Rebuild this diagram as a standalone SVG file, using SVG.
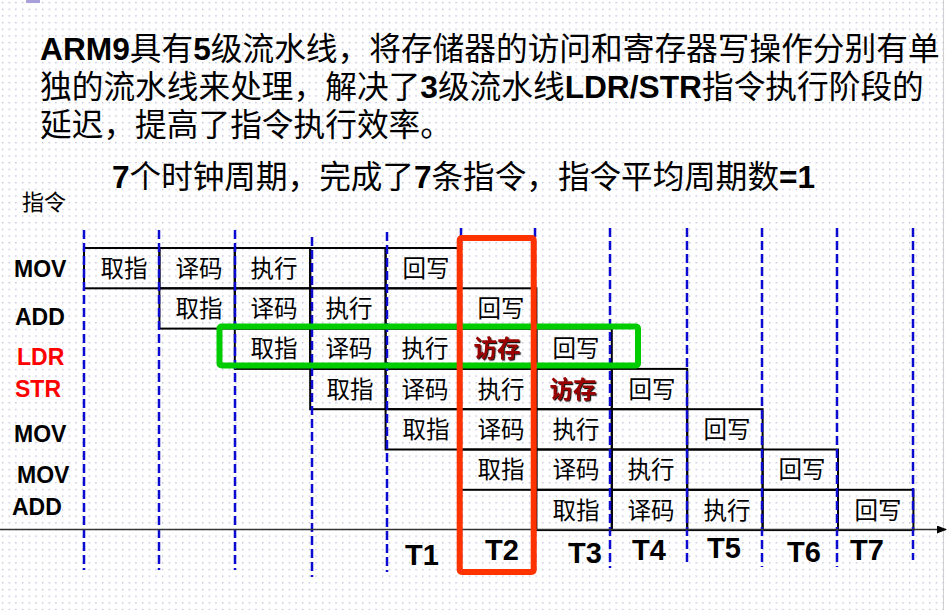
<svg xmlns="http://www.w3.org/2000/svg" width="949" height="610" viewBox="0 0 949 610">
<style>
.t{font-family:"Liberation Sans","Noto Sans CJK SC",sans-serif;fill:#000}
.b{font-weight:bold}
.c{font-family:"Noto Sans CJK SC","Liberation Serif",serif;font-size:23.5px;fill:#000;text-anchor:middle}
.m{fill:#990000;font-weight:bold;filter:url(#sh)}
.lab{font-family:"Liberation Sans",Arial,sans-serif;font-weight:bold;font-size:23px}
.tl{font-family:"Liberation Sans",Arial,sans-serif;font-weight:bold;font-size:29px}
.cell{fill:none;stroke:#000;stroke-width:2}
.dash{stroke:#0a0ad0;stroke-width:2.5;stroke-dasharray:9 4;fill:none}
</style>
<defs>
<pattern id="dots" width="6.67" height="6.67" patternUnits="userSpaceOnUse">
<rect x="2" y="2" width="1.2" height="1.2" fill="#a8a8cc"/>
</pattern>
<filter id="sh" x="-10%" y="-10%" width="130%" height="130%">
<feDropShadow dx="1.2" dy="1.2" stdDeviation="0.3" flood-color="#000" flood-opacity="0.9"/>
</filter>
<marker id="arr" markerWidth="10" markerHeight="8" refX="9" refY="4" orient="auto" markerUnits="userSpaceOnUse">
<path d="M0,0 L10,4 L0,8 Z" fill="#000"/>
</marker>
</defs>
<rect width="949" height="610" fill="#fff"/>
<rect width="949" height="610" fill="url(#dots)"/>
<rect x="26" y="0" width="14" height="3" fill="#a8a0d8"/>
<line x1="943.5" y1="0" x2="943.5" y2="610" stroke="#d0d0d0" stroke-width="1"/>

<g id="title">
<text class="t" x="40" y="60" font-size="31.7"><tspan class="b">ARM9</tspan>具有<tspan class="b">5</tspan>级流水线，将存储器的访问和寄存器写操作分别有单</text>
<text class="t" x="40" y="98" font-size="31.7">独的流水线来处理，解决了<tspan class="b">3</tspan>级流水线<tspan class="b">LDR/STR</tspan>指令执行阶段的</text>
<text class="t" x="40" y="136" font-size="31.7">延迟，提高了指令执行效率。</text>
<text class="t" x="112" y="188" font-size="31.6"><tspan class="b">7</tspan>个时钟周期，完成了<tspan class="b">7</tspan>条指令，指令平均周期数<tspan class="b">=1</tspan></text>
<text class="t" x="22" y="210" font-size="22">指令</text>
</g>

<g id="labels">
<text class="lab" x="14" y="277">MOV</text>
<text class="lab" x="15" y="325">ADD</text>
<text class="lab" x="17" y="365" fill="#ff0000">LDR</text>
<text class="lab" x="15" y="397" fill="#ff0000">STR</text>
<text class="lab" x="14" y="442">MOV</text>
<text class="lab" x="17" y="483">MOV</text>
<text class="lab" x="12" y="515">ADD</text>
</g>

<g id="row0">
<rect class="cell" x="84" y="248" width="75.4" height="40.3"/>
<rect class="cell" x="159.4" y="248" width="75.4" height="40.3"/>
<rect class="cell" x="234.8" y="248" width="75.4" height="40.3"/>
<rect class="cell" x="310.2" y="248" width="75.4" height="40.3"/>
<rect class="cell" x="385.6" y="248" width="75.4" height="40.3"/>
<text class="c" x="124" y="276.5">取指</text>
<text class="c" x="199" y="276.5">译码</text>
<text class="c" x="274" y="276.5">执行</text>
<text class="c" x="426" y="276.5">回写</text>
</g>
<g id="row1">
<rect class="cell" x="159.4" y="288.3" width="75.4" height="40.3"/>
<rect class="cell" x="234.8" y="288.3" width="75.4" height="40.3"/>
<rect class="cell" x="310.2" y="288.3" width="75.4" height="40.3"/>
<rect class="cell" x="385.6" y="288.3" width="75.4" height="40.3"/>
<rect class="cell" x="461" y="288.3" width="75.4" height="40.3"/>
<text class="c" x="199" y="317">取指</text>
<text class="c" x="274" y="317">译码</text>
<text class="c" x="349" y="317">执行</text>
<text class="c" x="501" y="317">回写</text>
</g>
<g id="row2">
<rect class="cell" x="234.8" y="328.6" width="75.4" height="40.3"/>
<rect class="cell" x="310.2" y="328.6" width="75.4" height="40.3"/>
<rect class="cell" x="385.6" y="328.6" width="75.4" height="40.3"/>
<rect class="cell" x="461" y="328.6" width="75.4" height="40.3"/>
<rect class="cell" x="536.4" y="328.6" width="75.4" height="40.3"/>
<text class="c" x="274" y="357">取指</text>
<text class="c" x="349" y="357">译码</text>
<text class="c" x="425" y="357">执行</text>
<text class="c m" x="497" y="357">访存</text>
<text class="c" x="576" y="357">回写</text>
</g>
<g id="row3">
<rect class="cell" x="310.2" y="368.9" width="75.4" height="40.3"/>
<rect class="cell" x="385.6" y="368.9" width="75.4" height="40.3"/>
<rect class="cell" x="461" y="368.9" width="75.4" height="40.3"/>
<rect class="cell" x="536.4" y="368.9" width="75.4" height="40.3"/>
<rect class="cell" x="611.8" y="368.9" width="75.4" height="40.3"/>
<text class="c" x="350" y="397.5">取指</text>
<text class="c" x="425" y="397.5">译码</text>
<text class="c" x="501" y="397.5">执行</text>
<text class="c m" x="573" y="397.5">访存</text>
<text class="c" x="652" y="397.5">回写</text>
</g>
<g id="row4">
<rect class="cell" x="385.6" y="409.2" width="75.4" height="40.3"/>
<rect class="cell" x="461" y="409.2" width="75.4" height="40.3"/>
<rect class="cell" x="536.4" y="409.2" width="75.4" height="40.3"/>
<rect class="cell" x="611.8" y="409.2" width="75.4" height="40.3"/>
<rect class="cell" x="687.2" y="409.2" width="75.4" height="40.3"/>
<text class="c" x="426" y="438">取指</text>
<text class="c" x="501" y="438">译码</text>
<text class="c" x="576" y="438">执行</text>
<text class="c" x="727" y="438">回写</text>
</g>
<g id="row5">
<rect class="cell" x="461" y="449.5" width="75.4" height="40.3"/>
<rect class="cell" x="536.4" y="449.5" width="75.4" height="40.3"/>
<rect class="cell" x="611.8" y="449.5" width="75.4" height="40.3"/>
<rect class="cell" x="687.2" y="449.5" width="75.4" height="40.3"/>
<rect class="cell" x="762.6" y="449.5" width="75.4" height="40.3"/>
<text class="c" x="501" y="478">取指</text>
<text class="c" x="576" y="478">译码</text>
<text class="c" x="651" y="478">执行</text>
<text class="c" x="802" y="478">回写</text>
</g>
<g id="row6">
<rect class="cell" x="536.4" y="489.8" width="75.4" height="40.3"/>
<rect class="cell" x="611.8" y="489.8" width="75.4" height="40.3"/>
<rect class="cell" x="687.2" y="489.8" width="75.4" height="40.3"/>
<rect class="cell" x="762.6" y="489.8" width="75.4" height="40.3"/>
<rect class="cell" x="838" y="489.8" width="75.4" height="40.3"/>
<text class="c" x="576" y="518.5">取指</text>
<text class="c" x="651" y="518.5">译码</text>
<text class="c" x="727" y="518.5">执行</text>
<text class="c" x="878" y="518.5">回写</text>
</g>

<g id="grid">
<line class="dash" x1="84" y1="230" x2="84" y2="570"/>
<line class="dash" x1="159" y1="230" x2="159" y2="570"/>
<line class="dash" x1="235" y1="230" x2="235" y2="570"/>
<line class="dash" x1="312" y1="237" x2="312" y2="577"/>
<line class="dash" x1="387" y1="232" x2="387" y2="572"/>
<line class="dash" x1="461" y1="228" x2="461" y2="570"/>
<line class="dash" x1="535" y1="228" x2="535" y2="570"/>
<line class="dash" x1="610" y1="228" x2="610" y2="568"/>
<line class="dash" x1="687" y1="228" x2="687" y2="563"/>
<line class="dash" x1="762" y1="228" x2="762" y2="567"/>
<line class="dash" x1="837" y1="228" x2="837" y2="567"/>
<line class="dash" x1="913" y1="228" x2="913" y2="560"/>
</g>

<g id="connectors">
<line x1="0" y1="529.5" x2="946" y2="529.5" stroke="#333" stroke-width="1.5" marker-end="url(#arr)"/>
</g>

<g id="highlightLDR">
<rect x="219.5" y="326.5" width="418.5" height="39" rx="2" fill="none" stroke="#00cc00" stroke-width="6"/>
</g>
<g id="highlightT2">
<rect x="459.7" y="238" width="74" height="334" rx="2" fill="none" stroke="#ff3300" stroke-width="6"/>
</g>

<g id="timeLabels">
<text class="tl" x="405" y="565">T1</text>
<text class="tl" x="485" y="560">T2</text>
<text class="tl" x="568" y="563">T3</text>
<text class="tl" x="632" y="560">T4</text>
<text class="tl" x="707" y="558">T5</text>
<text class="tl" x="787" y="562">T6</text>
<text class="tl" x="850" y="560">T7</text>
</g>
</svg>
